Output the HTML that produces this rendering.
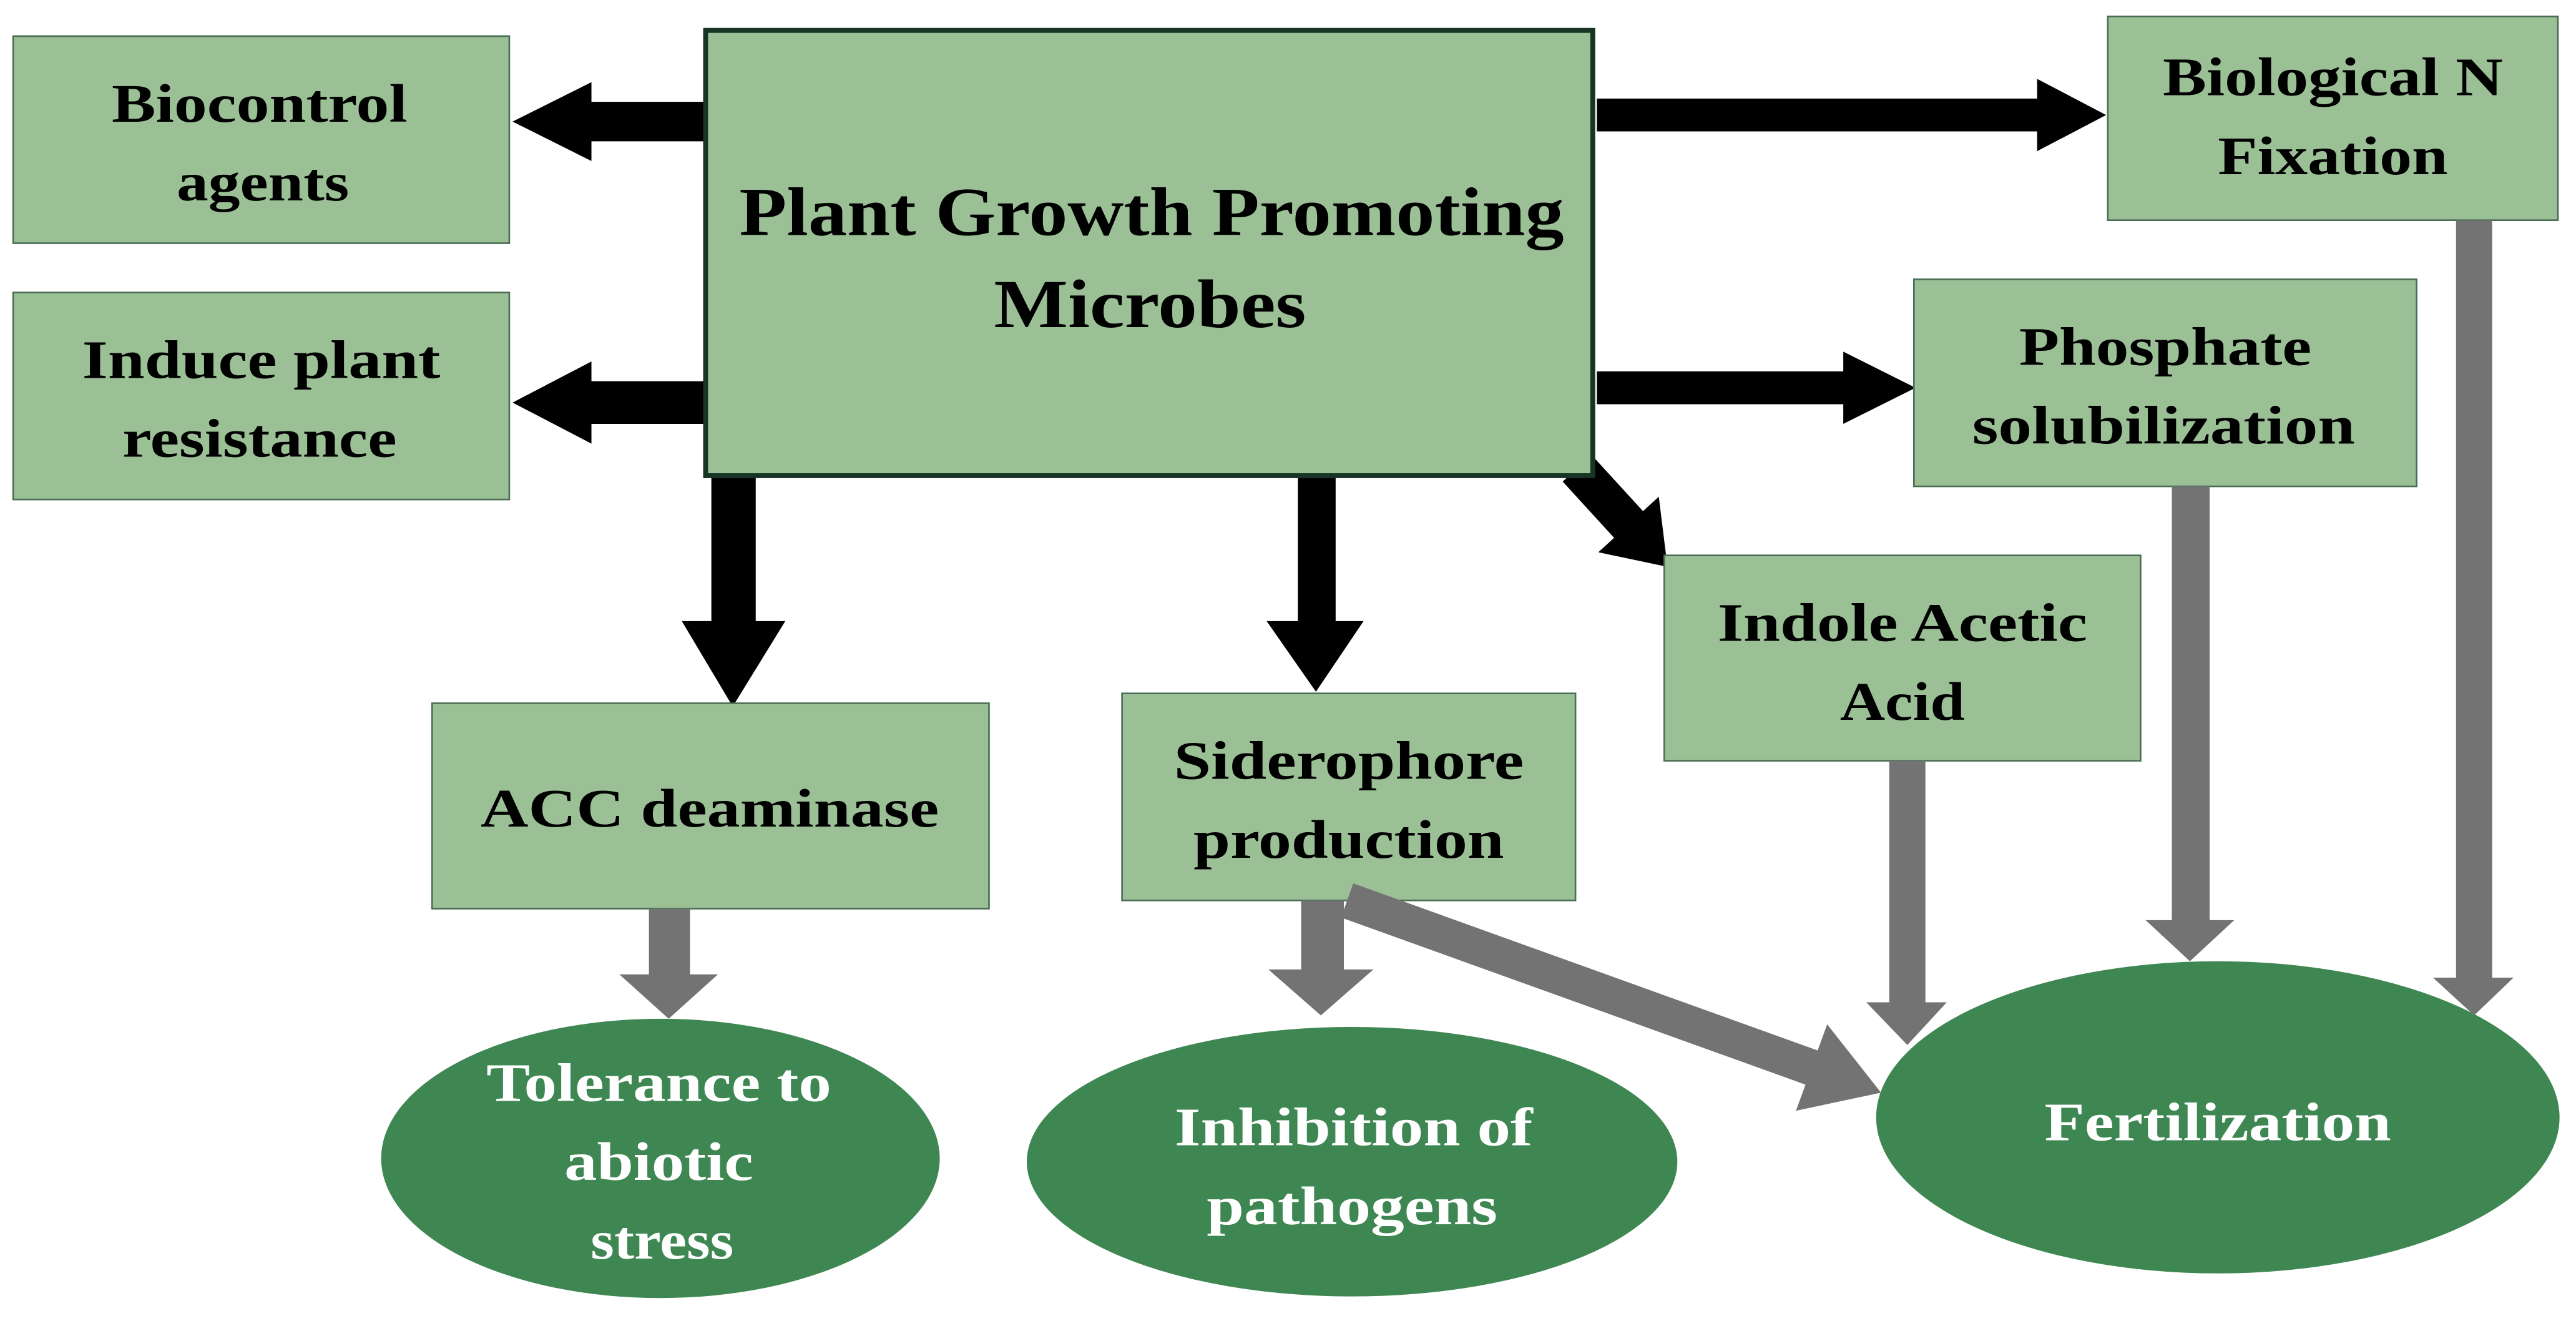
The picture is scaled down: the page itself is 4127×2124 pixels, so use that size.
<!DOCTYPE html>
<html><head><style>html,body{margin:0;padding:0;background:#fff}svg{display:block}</style></head><body>
<svg width="4127" height="2124" viewBox="0 0 1568 807" xmlns="http://www.w3.org/2000/svg" font-family="Liberation Serif, serif" font-weight="bold">
<rect width="1568" height="807" fill="#fff"/>
<g fill="#000">
<polygon points="430,62 360,62 360,50 312,74 360,98 360,86 430,86"/>
<polygon points="430,232 360,232 360,220 312,245 360,270 360,258 430,258"/>
<polygon points="972,60 1240,60 1240,48 1282,70 1240,92 1240,80 972,80"/>
<polygon points="972,226 1122,226 1122,214 1166,236 1122,258 1122,246 972,246"/>
<polygon points="433,290 460,290 460,378 478,378 446,430 415,378 433,378"/>
<polygon points="790,290 813,290 813,378 830,378 801,421 771,378 790,378"/>
<polygon points="968.8,276.9 1000.1,311.1 1009.7,302.3 1015,345 972.9,336.1 982.5,327.3 951.2,293.1"/>
</g>
<g fill="#9bc096" stroke="#4a6e55" stroke-width="1">
<rect x="8" y="22" width="302" height="126"/>
<rect x="8" y="178" width="302" height="126"/>
<rect x="1283" y="10" width="274" height="124"/>
<rect x="1165" y="170" width="306" height="126"/>
<rect x="1013" y="338" width="290" height="125"/>
<rect x="263" y="428" width="339" height="125"/>
<rect x="683" y="422" width="276" height="126"/>
</g>
<rect x="429.5" y="18.5" width="540" height="271" fill="#9bc096" stroke="#173525" stroke-width="3"/>
<g fill="#3f8752">
<ellipse cx="402" cy="705" rx="170" ry="85"/>
<ellipse cx="823" cy="707" rx="198" ry="82"/>
<ellipse cx="1350" cy="680" rx="208" ry="95"/>
</g>
<g fill="#737373">
<polygon points="395,553 420,553 420,593 437,593 407,620 377,593 395,593"/>
<polygon points="792,548 818,548 818,590 836,590 804,618 772,590 792,590"/>
<polygon points="823.7,537.6 1106.4,639.3 1112.2,623.4 1145,665 1093.2,676 1099,660.1 816.3,558.4"/>
<polygon points="1150,463 1172,463 1172,610 1185,610 1161,636 1136,610 1150,610"/>
<polygon points="1322,296 1345,296 1345,560 1360,560 1333,585 1306,560 1322,560"/>
<polygon points="1495,134 1517,134 1517,595 1530,595 1506,618 1481,595 1495,595"/>
</g>
<g fill="#000" text-anchor="middle" font-size="33" lengthAdjust="spacingAndGlyphs">
<text x="158" y="74" textLength="180" lengthAdjust="spacingAndGlyphs">Biocontrol</text><text x="160" y="122" textLength="105" lengthAdjust="spacingAndGlyphs">agents</text>
<text x="159" y="230" textLength="218" lengthAdjust="spacingAndGlyphs">Induce plant</text><text x="158" y="278" textLength="167" lengthAdjust="spacingAndGlyphs">resistance</text>
<text x="1420" y="58" textLength="207" lengthAdjust="spacingAndGlyphs">Biological N</text><text x="1420" y="106" textLength="140" lengthAdjust="spacingAndGlyphs">Fixation</text>
<text x="1318" y="222" textLength="178" lengthAdjust="spacingAndGlyphs">Phosphate</text><text x="1317" y="270" textLength="233" lengthAdjust="spacingAndGlyphs">solubilization</text>
<text x="1158" y="390" textLength="225" lengthAdjust="spacingAndGlyphs">Indole Acetic</text><text x="1158" y="438" textLength="76" lengthAdjust="spacingAndGlyphs">Acid</text>
<text x="432" y="503" textLength="279" lengthAdjust="spacingAndGlyphs">ACC deaminase</text>
<text x="821" y="474" textLength="213" lengthAdjust="spacingAndGlyphs">Siderophore</text><text x="821" y="522" textLength="189" lengthAdjust="spacingAndGlyphs">production</text>
<text x="701" y="143" font-size="42" textLength="502" lengthAdjust="spacingAndGlyphs">Plant Growth Promoting</text>
<text x="700" y="199" font-size="42" textLength="190" lengthAdjust="spacingAndGlyphs">Microbes</text>
</g>
<g fill="#fff" text-anchor="middle" font-size="33">
<text x="401" y="670" textLength="210" lengthAdjust="spacingAndGlyphs">Tolerance to</text><text x="401" y="718" textLength="115" lengthAdjust="spacingAndGlyphs">abiotic</text><text x="403" y="766" textLength="87" lengthAdjust="spacingAndGlyphs">stress</text>
<text x="824" y="697" textLength="218" lengthAdjust="spacingAndGlyphs">Inhibition of</text><text x="823" y="745" textLength="177" lengthAdjust="spacingAndGlyphs">pathogens</text>
<text x="1350" y="694" textLength="211" lengthAdjust="spacingAndGlyphs">Fertilization</text>
</g>
</svg>
</body></html>
